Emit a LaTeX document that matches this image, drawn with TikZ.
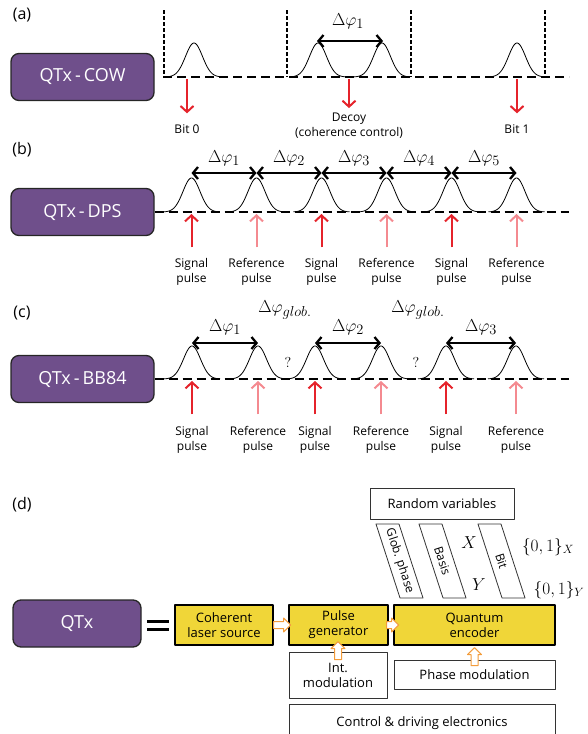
\documentclass[tikz,border=0pt]{standalone}
\usepackage{fontspec}
\setmainfont{Open Sans}
\usetikzlibrary{arrows.meta}
\definecolor{qtxP}{HTML}{6F4F8B}
\definecolor{qtxE}{HTML}{262626}
\definecolor{pulseR}{HTML}{E5232B}
\definecolor{pulseL}{HTML}{F48A90}
\definecolor{blockY}{HTML}{F0D638}
\definecolor{blockO}{HTML}{F39C3B}
% outlined block arrow: start point, rotation, length
\newcommand{\hollowarr}[3]{%
  \draw[hollow,shift={(#1)},rotate=#2]
    (0,-3.5) -- (#3-7,-3.5) -- (#3-7,-7) -- (#3,0) -- (#3-7,7) -- (#3-7,3.5) -- (0,3.5) -- cycle;}

\begin{document}
\begin{tikzpicture}[x=1pt,y=-1pt,line join=round,
  qtxbox/.style={draw=qtxE,line width=1.3pt,fill=qtxP,rounded corners=8pt,
    text=white,minimum width=143pt,minimum height=47pt,inner sep=0pt,
    font=\fontsize{18}{18}\selectfont},
  panel/.style={font=\fontsize{16}{16}\selectfont,inner sep=0pt},
  base/.style={line width=2.8pt,dash pattern=on 9pt off 5pt},
  slot/.style={line width=2.4pt,dash pattern=on 4pt off 2pt},
  gauss/.style={line width=0.8pt},
  phase/.style={line width=2.3pt,
    {Straight Barb[length=5pt,width=12pt]}-{Straight Barb[length=5pt,width=12pt]}},
  sigarrow/.style={draw=pulseR,line width=2pt,-{Straight Barb[length=6pt,width=13pt]}},
  refarrow/.style={draw=pulseL,line width=2pt,-{Straight Barb[length=6pt,width=13pt]}},
  lbl/.style={font=\fontsize{12}{15}\selectfont,align=center,inner sep=0pt},
  dphi/.style={font=\fontsize{19}{19}\selectfont,inner sep=0pt},
  block/.style={draw=black,line width=1.3pt,fill=blockY,align=center,inner sep=0pt,
    minimum height=40pt,font=\fontsize{13}{15}\selectfont},
  plain/.style={draw=black!80,line width=0.8pt,fill=white,align=center,inner sep=0pt,
    font=\fontsize{13}{15}\selectfont},
  slanted/.style={draw=black!80,line width=0.8pt,fill=white},
  tilted/.style={font=\fontsize{12}{12}\selectfont,inner sep=0pt,rotate=-72},
  hollow/.style={draw=blockO,line width=1pt,fill=white},
]
\useasboundingbox (0,0) rectangle (587,734);
\clip (0,0) rectangle (587,734);

  % (a) coherent one-way
  \node[panel] (labA) at (22,15) {(a)};
  \node[qtxbox] (qtxA) at (82.5,77) {QTx\,-\,COW};
  \coordinate (baseA0) at (163,77);
  \coordinate (baseA1) at (569,77);
  \draw[base] (baseA0) -- (baseA1);
  \foreach \x in {164,287,411,545}
    \draw[slot] (\x,10) -- (\x,77);
  \foreach \c in {194,318,382,517}
    \draw[gauss] plot[domain=-28:28,samples=50,smooth] ({\c+\x},{77-34*exp(-0.5*\x*\x/72)});
  \coordinate (pkA1) at (317,41);
  \coordinate (pkA2) at (383,41);
  \draw[phase] (pkA1) -- (pkA2);
  \node[dphi] (phiA) at (348,21) {$\Delta\varphi_1$};
  \node[lbl] (bitA0) at (187,129) {Bit 0};
  \node[lbl] (decA) at (349,126) {Decoy\\(coherence control)};
  \node[lbl] (bitA1) at (517,129) {Bit 1};
  \coordinate (hitA0) at (187,79);
  \coordinate (hitAD) at (349,79);
  \coordinate (hitA1) at (517,79);
  \draw[sigarrow] (hitA0) -- ([yshift=11pt]bitA0.north);
  \draw[sigarrow] (hitAD) -- ([yshift=5pt]decA.north);
  \draw[sigarrow] (hitA1) -- ([yshift=11pt]bitA1.north);

  % (b) differential phase shift
  \node[panel] (labB) at (22,150) {(b)};
  \node[qtxbox] (qtxB) at (82.5,212) {QTx\,-\,DPS};
  \coordinate (baseB1) at (569,212);
  \draw[base] (qtxB.east) -- (baseB1);
  \foreach \i in {0,...,5}{
    \pgfmathsetmacro{\c}{191.5+65*\i}
    \draw[gauss] plot[domain=-28:28,samples=50,smooth] ({\c+\x},{212-34*exp(-0.5*\x*\x/72)});
    \coordinate (pkB\i) at (\c,173);
    \coordinate (hitB\i) at (\c,214);
  }
  \foreach \i/\j in {0/1,1/2,2/3,3/4,4/5}{
    \draw[phase] (pkB\i) -- (pkB\j);
    \node[dphi] (phiB\j) at ({224+65*\i},158) {$\Delta\varphi_{\j}$};
  }
  \foreach \i in {0,2,4}{
    \node[lbl] (txtB\i) at ([yshift=-58pt]hitB\i) {Signal\\pulse};
    \draw[sigarrow] ([yshift=11pt]txtB\i.north) -- (hitB\i);
  }
  \foreach \i in {1,3,5}{
    \node[lbl] (txtB\i) at ([yshift=-58pt]hitB\i) {Reference\\pulse};
    \draw[refarrow] ([yshift=11pt]txtB\i.north) -- (hitB\i);
  }

  % (c) phase-encoded BB84
  \node[panel] (labC) at (22,313) {(c)};
  \node[qtxbox] (qtxC) at (82.5,379) {QTx\,-\,BB84};
  \coordinate (baseC1) at (569,379);
  \draw[base] (qtxC.east) -- (baseC1);
  \foreach \i/\c in {0/192,1/258,2/315,3/381,4/446,5/516}{
    \draw[gauss] plot[domain=-28:28,samples=50,smooth] ({\c+\x},{379-33*exp(-0.5*\x*\x/72)});
    \coordinate (pkC\i) at (\c,343);
    \coordinate (hitC\i) at (\c,381);
  }
  \draw[phase] (pkC0) -- (pkC1);
  \draw[phase] (pkC2) -- (pkC3);
  \draw[phase] (pkC4) -- (pkC5);
  \node[dphi] (phiC1) at (225,327) {$\Delta\varphi_1$};
  \node[dphi] (phiC2) at (348,327) {$\Delta\varphi_2$};
  \node[dphi] (phiC3) at (481,327) {$\Delta\varphi_3$};
  \node[dphi] (globC1) at (285,310) {$\Delta\varphi_{glob.}$};
  \node[dphi] (globC2) at (418,310) {$\Delta\varphi_{glob.}$};
  \node[dphi,font=\fontsize{14}{14}\selectfont] (askC1) at (288,362) {$?$};
  \node[dphi,font=\fontsize{14}{14}\selectfont] (askC2) at (416,362) {$?$};
  \foreach \i in {0,2,4}{
    \node[lbl] (txtC\i) at ([yshift=-59pt]hitC\i) {Signal\\pulse};
    \draw[sigarrow] ([yshift=12pt]txtC\i.north) -- (hitC\i);
  }
  \foreach \i in {1,3,5}{
    \node[lbl] (txtC\i) at ([yshift=-59pt]hitC\i) {Reference\\pulse};
    \draw[refarrow] ([yshift=12pt]txtC\i.north) -- (hitC\i);
  }

  % (d) transmitter blocks
  \node[panel] (labD) at (22,505) {(d)};
  \node[qtxbox,minimum width=128pt] (qtxD) at (77,623.5) {QTx};
  \draw[line width=3.5pt] (147,621.5) -- (169,621.5) (147,629.5) -- (169,629.5);
  \node[block,minimum width=98pt] (laser) at (224,625) {Coherent\\laser source};
  \node[block,minimum width=99pt] (pulsegen) at (338.5,625) {Pulse\\generator};
  \node[block,minimum width=161pt] (encoder) at (474.5,625) {Quantum\\encoder};
  \node[plain,minimum width=98pt,minimum height=46pt] (intmod) at (338,675) {Int.\\modulation};
  \node[plain,minimum width=161pt,minimum height=29pt] (phasemod) at (474.5,674.5) {Phase modulation};
  \node[plain,minimum width=266pt,minimum height=38pt] (ctrl) at (422,723) {Control \& driving electronics};
  \node[plain,minimum width=144pt,minimum height=31pt] (randvar) at (442,503.5) {Random variables};
  \hollowarr{laser.east}{0}{17}
  \hollowarr{[xshift=-2pt]pulsegen.east}{0}{12}
  \hollowarr{[yshift=-8pt]intmod.north}{90}{18}
  \hollowarr{[yshift=-6pt]phasemod.north}{90}{18}

  % random variables feeding the encoder
  \draw[slanted] (376,524) -- (399,524) -- (423,598) -- (400,598) -- cycle;
  \draw[slanted] (419,524) -- (442,524) -- (466,598) -- (443,598) -- cycle;
  \draw[slanted] (478,524) -- (501,524) -- (525,598) -- (502,598) -- cycle;
  \node[tilted] (glob) at (399.5,561) {Glob. phase};
  \node[tilted] (basis) at (442.5,561) {Basis};
  \node[tilted] (bit) at (501.5,561) {Bit};
  \node[dphi,font=\fontsize{18}{18}\selectfont] (varX) at (469,543) {$X$};
  \node[dphi,font=\fontsize{18}{18}\selectfont] (varY) at (479,585) {$Y$};
  \node[dphi,font=\fontsize{18}{18}\selectfont] (setX) at (548,547) {$\{0,1\}_X$};
  \node[dphi,font=\fontsize{18}{18}\selectfont] (setY) at (559,590) {$\{0,1\}_Y$};

\end{tikzpicture}
\end{document}
